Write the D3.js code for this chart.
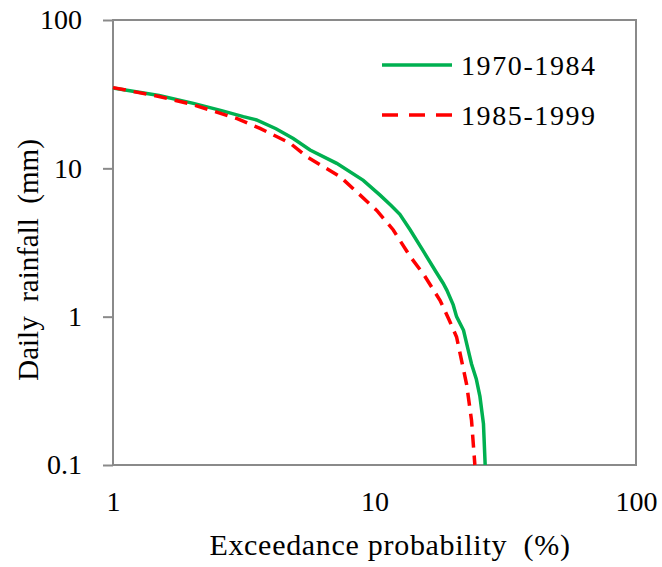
<!DOCTYPE html>
<html>
<head>
<meta charset="utf-8">
<script src="https://cdn.jsdelivr.net/npm/d3@7"></script>
<style>
  body { margin: 0; background: #fff; }
</style>
</head>
<body>
<div class="graph"></div>
<script>
'use strict'

// exceedance curves (probability %, rainfall mm)
const greenProb = [1, 1.5, 2.03, 2.6, 3.15, 3.54, 4.2, 4.89, 5.67, 7.17, 9.06, 10.5, 11.6, 12.5, 13.7, 15.5, 17.2, 18.3, 18.9, 20.0, 20.6, 21.9, 22.8, 23.5, 24.5, 25.3, 26.1, 26.5]
const greenRain = [34.8, 31, 27.4, 24.5, 22.3, 21.2, 18.5, 15.9, 13.3, 10.8, 8.3, 6.6, 5.6, 4.9, 3.84, 2.7, 2.0, 1.68, 1.51, 1.2, 1.0, 0.81, 0.6, 0.48, 0.38, 0.29, 0.19, 0.1]
const redProb = [1, 1.5, 2.0, 2.97, 3.65, 4.75, 5.5, 7.38, 8.5, 10.2, 11.8, 13.7, 15.5, 17.8, 19.3, 20.6, 22.5, 23.5, 24.2]
const redRain = [35, 30.5, 27, 21.7, 18.6, 14.8, 12.0, 8.8, 7.0, 5.2, 3.84, 2.54, 1.9, 1.29, 0.95, 0.73, 0.35, 0.2, 0.1]

const seriesNames = ['1970-1984', '1985-1999']
const xTicks = [1, 10, 100]
const yTicks = [0.1, 1, 10, 100]

const fontFamily = '"Liberation Serif", "DejaVu Serif", "Times New Roman", serif'

const margin = { top: 20, right: 26, bottom: 102, left: 113 },
  width = 662 - margin.left - margin.right,
  height = 567 - margin.top - margin.bottom

const axisGrey = '#8a8a8a'

const svg = d3.select('.graph').append('svg')
  .attr('width', 662)
  .attr('height', 567)
  .attr('font-family', fontFamily)
  .append('g')
  .attr('transform', `translate(${margin.left},${margin.top})`)

const xScale = d3.scaleLog().domain([1, 100]).range([0, width])
const yScale = d3.scaleLog().domain([0.1, 100]).range([height, 0])

// plot frame
svg.append('rect')
  .attr('width', width)
  .attr('height', height)
  .attr('fill', 'none')
  .attr('stroke', axisGrey)
  .attr('stroke-width', 2)

// y axis with outward ticks
const yAxis = svg.append('g')
  .call(d3.axisLeft(yScale).tickValues(yTicks).tickFormat(d => String(d)).tickSize(10).tickPadding(21))
yAxis.attr('font-family', fontFamily)
yAxis.select('.domain').remove()
yAxis.selectAll('line').attr('stroke', axisGrey).attr('stroke-width', 2)
yAxis.selectAll('text').style('font-size', '28px').style('font-family', fontFamily).attr('fill', '#000')

// x axis, labels only
const xAxis = svg.append('g')
  .attr('transform', `translate(0,${height})`)
  .call(d3.axisBottom(xScale).tickValues(xTicks).tickFormat(d => String(d)).tickSize(0).tickPadding(26))
xAxis.attr('font-family', fontFamily)
xAxis.select('.domain').remove()
xAxis.selectAll('text').style('font-size', '28px').style('font-family', fontFamily).attr('fill', '#000')

// axis titles
svg.append('text')
  .attr('x', 390 - margin.left)
  .attr('y', 555 - margin.top)
  .attr('text-anchor', 'middle')
  .style('font-family', fontFamily)
  .style('font-size', '30px')
  .style('letter-spacing', '0.7px')
  .style('white-space', 'pre')
  .text('Exceedance probability  (%)')

svg.append('text')
  .attr('transform', `translate(${28 - margin.left},${260 - margin.top}) rotate(-90)`)
  .attr('text-anchor', 'middle')
  .attr('dy', '0.35em')
  .style('font-family', fontFamily)
  .style('font-size', '29px')
  .style('white-space', 'pre')
  .text('Daily  rainfall  (mm)')

const line = d3.line()
  .x(d => xScale(d[0]))
  .y(d => yScale(d[1]))

svg.append('path')
  .datum(greenProb.map((p, i) => [p, greenRain[i]]))
  .attr('d', line)
  .attr('fill', 'none')
  .attr('stroke', '#00B050')
  .attr('stroke-width', 3.5)

svg.append('path')
  .datum(redProb.map((p, i) => [p, redRain[i]]))
  .attr('d', line)
  .attr('fill', 'none')
  .attr('stroke', '#FF0000')
  .attr('stroke-width', 3.5)
  .attr('stroke-dasharray', '13,8')

// legend
const legend = svg.append('g').attr('transform', `translate(${382 - margin.left},${65 - margin.top})`)
const legendStyles = [
  { color: '#00B050', dash: null },
  { color: '#FF0000', dash: '16,11' }
]
seriesNames.forEach((name, i) => {
  const g = legend.append('g').attr('transform', `translate(0,${i * 50})`)
  g.append('line')
    .attr('x1', 0).attr('x2', 70)
    .attr('stroke', legendStyles[i].color)
    .attr('stroke-width', 3.5)
    .attr('stroke-dasharray', legendStyles[i].dash)
  g.append('text')
    .attr('x', 79)
    .attr('dy', '0.35em')
    .style('font-family', fontFamily)
    .style('font-size', '28px')
    .style('letter-spacing', '1.6px')
    .text(name)
})
</script>
</body>
</html>
